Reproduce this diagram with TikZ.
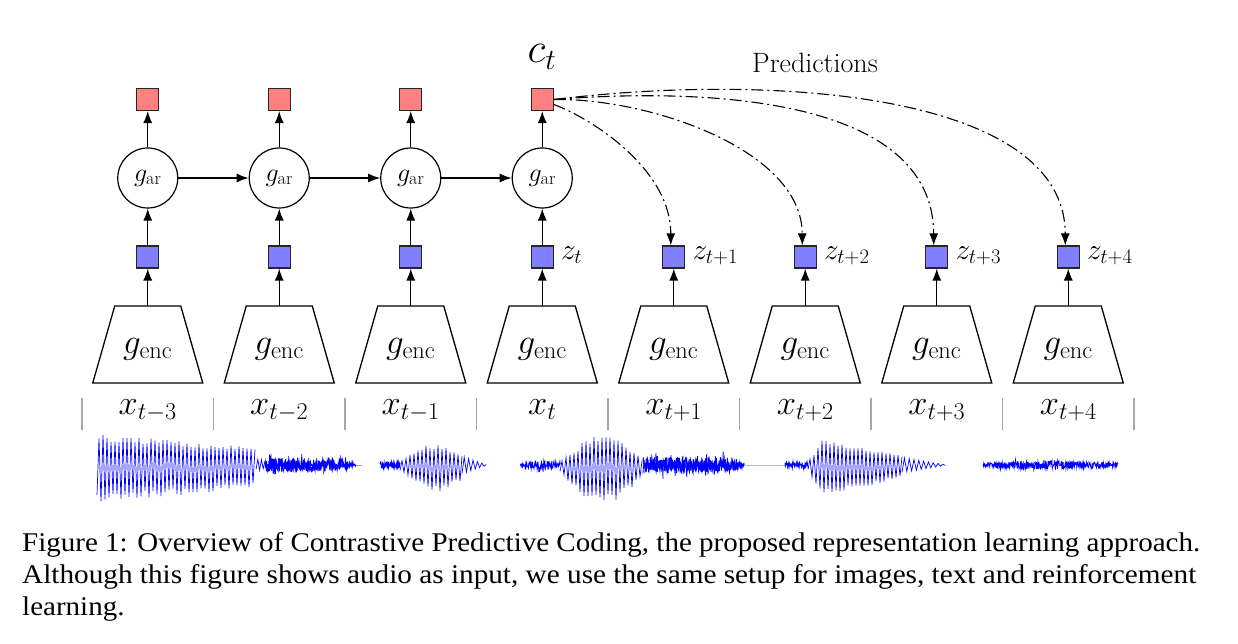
\RequirePackage{fix-cm}
\documentclass[tikz,border=0pt]{standalone}
\usepackage{fontspec}
\usepackage{graphicx}
\usetikzlibrary{arrows.meta}
\newfontfamily\capfont{Liberation Serif}
\newsavebox\capboxA
\newlength\capw
\begin{document}
\sbox\capboxA{\capfont\fontsize{27}{32}\selectfont Figure 1: Overview of Contrastive Predictive Coding, the proposed representation learning approach.}%
\setlength\capw{\wd\capboxA}%
\begin{tikzpicture}[x=1pt,y=-1pt,
  sq/.style={draw=black!85, line width=1.1pt, minimum size=22pt, inner sep=0pt},
  redsq/.style={sq, fill=red!50},
  bluesq/.style={sq, fill=blue!50},
  arnode/.style={circle, draw, line width=1.2pt, minimum size=60pt, inner sep=0pt, font=\fontsize{26}{26}\selectfont},
  encbox/.style={rectangle, minimum width=110pt, minimum height=77pt, inner sep=0pt, outer sep=0pt},
  trap/.style={line width=1.3pt, line join=miter},
  conn/.style={line width=1.2pt, -{Latex[length=12pt,width=9pt]}},
  pred/.style={line width=1.1pt, dash pattern=on 12pt off 4pt on 2pt off 4pt, -{Latex[length=12pt,width=9pt]}},
  tickline/.style={draw=gray!70, line width=1.2pt},
  wave/.style={blue, line width=0.7pt},
  noise/.style={blue, line width=0.8pt},
  lbl/.style={inner sep=0pt}
]
\useasboundingbox (0,0) rectangle (1238,644);
\fill[white] (0,0) rectangle (1238,644);

% columns
\foreach \lab [count=\k from 0] in {{x_{t-3}},{x_{t-2}},{x_{t-1}},{x_t},{x_{t+1}},{x_{t+2}},{x_{t+3}},{x_{t+4}}}{
  \pgfmathsetmacro\cx{147.75+131.5*\k}
  \node[encbox] (enc\k) at (\cx,344.5) {};
  \draw[trap] ([xshift=22pt]enc\k.north west) -- ([xshift=-22pt]enc\k.north east) -- (enc\k.south east) -- (enc\k.south west) -- cycle;
  \node[lbl, anchor=base, font=\fontsize{35}{35}\selectfont] (gl\k) at (\cx,353) {$g_{\mathrm{enc}}$};
  \node[bluesq] (z\k) at (\cx,257) {};
  \draw[conn] (enc\k.north) -- (z\k.south);
  \node[lbl, anchor=base, font=\fontsize{34.5}{34.5}\selectfont] (xl\k) at (\cx,414) {$\lab$};
}
\foreach \k in {0,...,8}{
  \pgfmathsetmacro\tx{82+131.5*\k}
  \coordinate (tt\k) at (\tx,398);
  \coordinate (tb\k) at (\tx,430);
  \draw[tickline] (tt\k) -- (tb\k);
}
\foreach \k in {0,...,3}{
  \pgfmathsetmacro\cx{147.75+131.5*\k}
  \node[arnode] (ar\k) at (\cx,178) {$g_{\mathrm{ar}}$};
  \node[redsq] (c\k) at (\cx,99.5) {};
  \draw[conn] (z\k.north) -- (ar\k.south);
  \draw[conn] (ar\k.north) -- (c\k.south);
}
\foreach \k [evaluate=\k as \n using int(\k+1)] in {0,1,2}{
  \draw[conn] (ar\k.east) -- (ar\n.west);
}

% z labels
\foreach \k/\zl in {3/{z_t},4/{z_{t+1}},5/{z_{t+2}},6/{z_{t+3}},7/{z_{t+4}}}{
  \node[lbl, anchor=base west, font=\fontsize{29.5}{29.5}\selectfont] (zl\k) at ([xshift=7pt,yshift=-2pt]z\k.east) {$\zl$};
}

\node[lbl, anchor=base, font=\fontsize{42}{42}\selectfont] (ctlab) at (542,63) {$c_t$};
\node[lbl, anchor=base, font=\fontsize{28}{28}\selectfont] (predlab) at (815,73) {Predictions};

% predictions
\coordinate (p1s) at ([yshift=-5pt]c3.east);
\coordinate (p1e) at ([xshift=-3pt]z4.north);
\coordinate (p2e) at ([xshift=-3pt]z5.north);
\coordinate (p3e) at ([xshift=-3pt]z6.north);
\coordinate (p4e) at ([xshift=-3pt]z7.north);
\draw[pred] (p1s) .. controls (593,119) and (671,170) .. (p1e);
\draw[pred] (c3.east) .. controls (650,98) and (802,150) .. (p2e);
\draw[pred] (c3.east) .. controls (700,88) and (933,95) .. (p3e);
\draw[pred] (c3.east) .. controls (780,72) and (1065,95) .. (p4e);

% waveforms
\pgfmathsetseed{7}
% segment 1
\draw[wave] plot[domain=0:79, samples=80] ({97+2.0*\x}, {466 + (cos(180*\x)>0 ? 1.15 : 1)*cos(180*\x)*(32-13*\x/79)*(0.75+0.25*rnd)});
\draw[wave] plot[domain=0:6, samples=7] ({256+1.8*\x}, {465 + cos(180*\x)*6*(0.6+0.4*rnd)});
\draw[noise] plot[domain=0:260, samples=261] ({265+0.35*\x}, {465 + rand*rand*rand*(1+16*(\x<225 ? 1 : (260-\x)/35))});
\draw[noise] plot[domain=0:260, samples=261] ({265+0.35*\x}, {465 + rand*(1+6*(\x<225 ? 1 : (260-\x)/35))});
\draw[blue!40, line width=0.6pt] (356,465) -- (362,465);
% segment 2
\draw[noise] plot[domain=0:57, samples=58] ({380+0.35*\x}, {465 + rand*3.5});
\draw[wave] plot[domain=0:31, samples=32] ({400+2.0*\x}, {466 + (cos(180*\x)>0 ? 1.15 : 1)*cos(180*\x)*(4+18*sin(5*\x))*(0.75+0.25*rnd)});
\draw[wave] plot[domain=0:11, samples=12] ({462+2.2*\x}, {465 + cos(180*\x)*(8*(1-\x/11)+0.5)});
% segment 3
\draw[noise] plot[domain=0:115, samples=116] ({520+0.35*\x}, {465 + rand*(1+4*sin(1.5652*\x))+rand*rand*rand*6});
\draw[wave] plot[domain=0:41, samples=42] ({560+2.0*\x}, {467 + (cos(180*\x)>0 ? 1.15 : 1)*cos(180*\x)*(4+28*sin(4.2*\x))*(0.75+0.25*rnd)});
\draw[noise] plot[domain=0:290, samples=291] ({643+0.35*\x}, {465 + rand*rand*rand*(1+18*(\x<250 ? 1 : (290-\x)/40))});
\draw[noise] plot[domain=0:290, samples=291] ({643+0.35*\x}, {465 + rand*(1+7*(\x<250 ? 1 : (290-\x)/40))});
\draw[blue!30, line width=0.6pt] (745,465) -- (786,465);
% segment 4
\draw[noise] plot[domain=0:65, samples=66] ({785+0.35*\x}, {465 + rand*3.5});
\draw[wave] plot[domain=0:47, samples=48] ({808+2.0*\x}, {466 + (cos(180*\x)>0 ? 1.15 : 1)*cos(180*\x)*(\x<7 ? 4+22*\x/7 : 26-15*(\x-7)/40)*(0.75+0.25*rnd)});
\draw[wave] plot[domain=0:18, samples=19] ({902+2.4*\x}, {465 + cos(180*\x)*(7*(1-\x/18)+0.4)});
% segment 5
\draw[noise] plot[domain=0:386, samples=387] ({983+0.35*\x}, {465 + rand*(2+2.5*sin(0.4663*\x)) + rand*rand*rand*3});

% caption
\pgfmathsetmacro\capscale{1178/\capw}
\node[lbl, anchor=base west] (cap1) at (22,551) {\scalebox{\capscale}[1]{\usebox\capboxA}};
\node[lbl, anchor=base west] (cap2) at (22,583) {\resizebox{1174pt}{\height}{\capfont\fontsize{27}{32}\selectfont Although this figure shows audio as input, we use the same setup for images, text and reinforcement}};
\node[lbl, anchor=base west] (cap3) at (22,615) {\scalebox{\capscale}[1]{\capfont\fontsize{27}{32}\selectfont learning.}};
\end{tikzpicture}
\end{document}
